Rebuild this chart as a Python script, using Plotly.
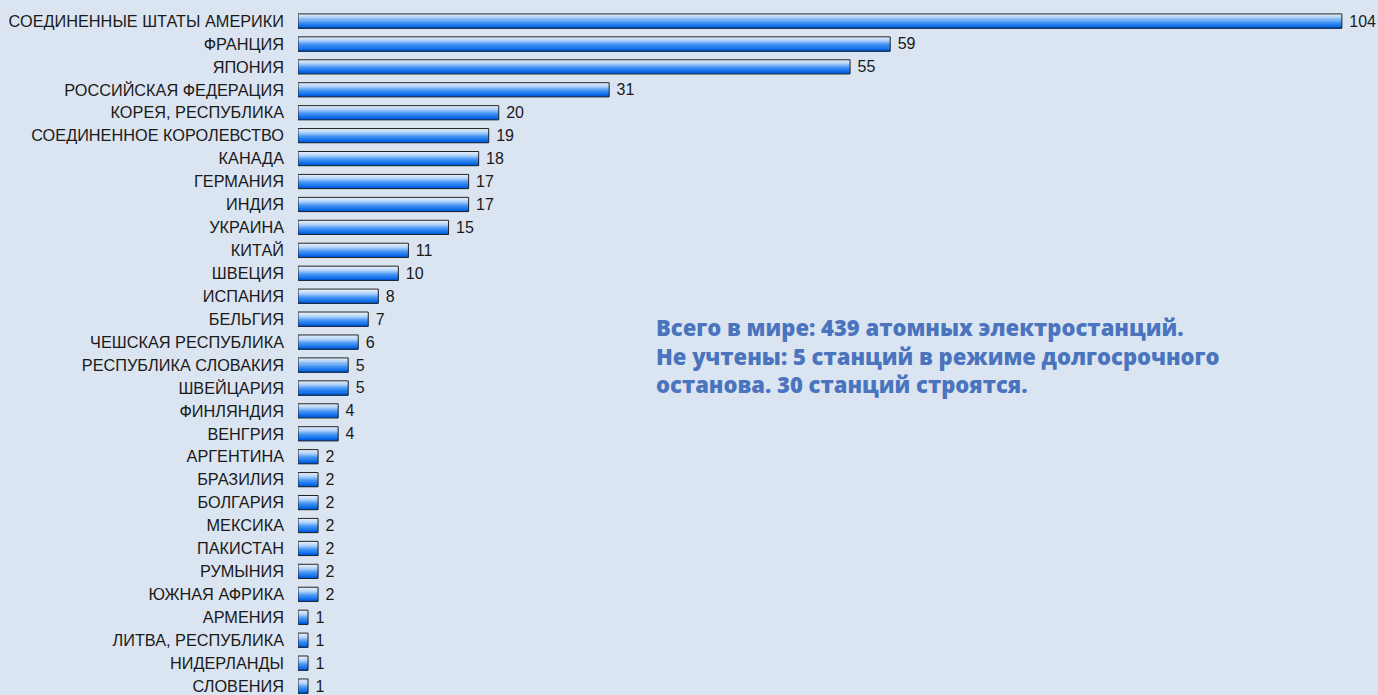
import plotly.graph_objects as go

countries = [
    "СОЕДИНЕННЫЕ ШТАТЫ АМЕРИКИ", "ФРАНЦИЯ", "ЯПОНИЯ", "РОССИЙСКАЯ ФЕДЕРАЦИЯ",
    "КОРЕЯ, РЕСПУБЛИКА", "СОЕДИНЕННОЕ КОРОЛЕВСТВО", "КАНАДА", "ГЕРМАНИЯ",
    "ИНДИЯ", "УКРАИНА", "КИТАЙ", "ШВЕЦИЯ", "ИСПАНИЯ", "БЕЛЬГИЯ",
    "ЧЕШСКАЯ РЕСПУБЛИКА", "РЕСПУБЛИКА СЛОВАКИЯ", "ШВЕЙЦАРИЯ", "ФИНЛЯНДИЯ",
    "ВЕНГРИЯ", "АРГЕНТИНА", "БРАЗИЛИЯ", "БОЛГАРИЯ", "МЕКСИКА", "ПАКИСТАН",
    "РУМЫНИЯ", "ЮЖНАЯ АФРИКА", "АРМЕНИЯ", "ЛИТВА, РЕСПУБЛИКА", "НИДЕРЛАНДЫ",
    "СЛОВЕНИЯ",
]
reactors = [104, 59, 55, 31, 20, 19, 18, 17, 17, 15, 11, 10, 8, 7, 6, 5, 5, 4, 4,
            2, 2, 2, 2, 2, 2, 2, 1, 1, 1, 1]

note = ("Всего в мире: 439 атомных электростанций.<br>"
        "Не учтены: 5 станций в режиме долгосрочного<br>"
        "останова. 30 станций строятся.")

BG = "#dbe5f1"
BAR_W = 0.62
N = 14
# vertical gradient stops (position, rgb) from top to bottom of each bar
stops = [(0.0, (236, 242, 250)), (0.3, (178, 212, 250)), (0.6, (70, 150, 245)),
         (1.0, (0, 96, 228))]


def grad(t):
    for (p0, c0), (p1, c1) in zip(stops[:-1], stops[1:]):
        if t <= p1:
            f = (t - p0) / (p1 - p0)
            return tuple(int(round(c0[k] + (c1[k] - c0[k]) * f)) for k in range(3))
    return stops[-1][1]


fig = go.Figure()
for i in range(N):
    c = grad(i / (N - 1))
    fig.add_trace(go.Bar(
        x=reactors, y=countries, orientation="h",
        width=BAR_W / N, offset=-BAR_W / 2 + i * BAR_W / N,
        marker=dict(color="rgb(%d,%d,%d)" % c, line=dict(width=0)),
        hoverinfo="skip", showlegend=False,
    ))

fig.add_trace(go.Bar(
    x=reactors, y=countries, orientation="h",
    width=BAR_W, offset=-BAR_W / 2,
    marker=dict(color="rgba(0,0,0,0)", line=dict(color="#222222", width=1)),
    text=[" " + str(v) for v in reactors], textposition="outside",
    textfont=dict(family="Liberation Sans, Arial", size=16, color="#1a1a1a"),
    constraintext="none", cliponaxis=False, showlegend=False,
))

fig.update_layout(
    width=1378, height=695,
    margin=dict(l=297.5, r=0, t=0, b=0),
    paper_bgcolor=BG, plot_bgcolor=BG,
    barmode="overlay",
    xaxis=dict(range=[0, 107.6], visible=False, fixedrange=True),
    yaxis=dict(
        categoryorder="array", categoryarray=countries,
        range=[29.39, -0.916], showgrid=False, zeroline=False, showline=False,
        ticks="", ticklabelstandoff=13,
        tickfont=dict(family="Liberation Sans, Arial", size=16.3, color="#1a1a1a"),
    ),
    annotations=[dict(
        text=note, xref="paper", yref="paper", x=0.330, y=1 - 310 / 695,
        xanchor="left", yanchor="top", align="left", showarrow=False,
        font=dict(family="Open Sans", size=22, color="#4a74bd", weight=800),
    )],
)

fig.write_html("out.html")
